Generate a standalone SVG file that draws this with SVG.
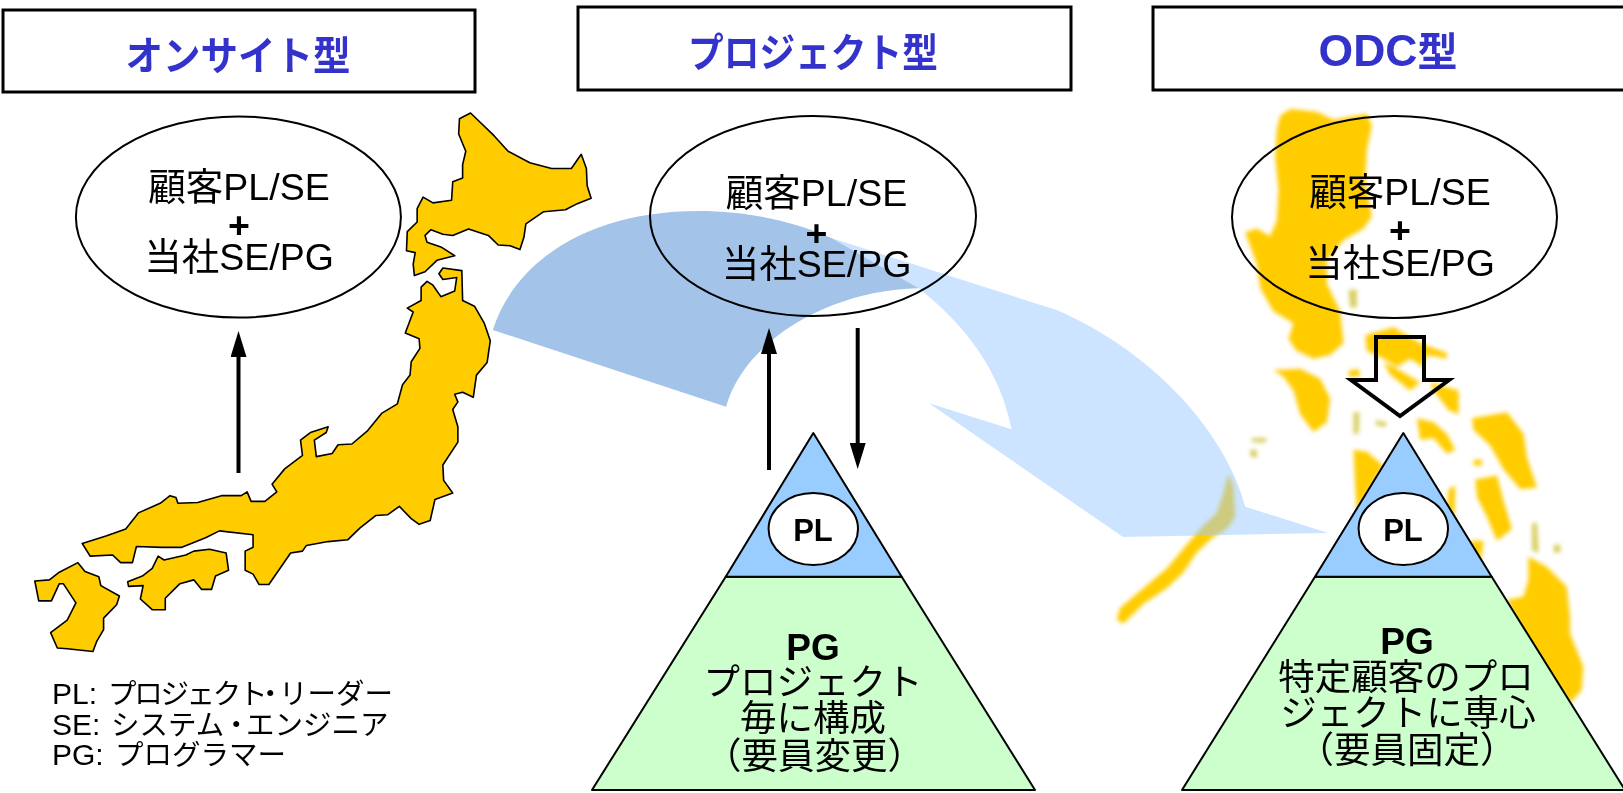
<svg xmlns="http://www.w3.org/2000/svg" width="1623" height="793" viewBox="0 0 1623 793">
<style>
text{font-family:"Liberation Sans","Noto Sans CJK JP",sans-serif;fill:#000;text-anchor:middle}
.hd{fill:#3333CC;font-weight:bold;font-size:40px}
.box{fill:#fff;stroke:#000;stroke-width:3}
.oval{fill:none;stroke:#000;stroke-width:2}
.e{font-size:37.5px}
.b{font-weight:bold}
.t{font-size:36.5px}
.leg{font-size:28.5px;text-anchor:start}
.lat{font-size:30px}
.tri{stroke:#000;stroke-width:2;stroke-linejoin:round}
.jp{fill:#FFCC00;stroke:#000;stroke-width:1.6;stroke-linejoin:round;vector-effect:non-scaling-stroke}
.ph{fill:#FFCC00}
.pale{fill:#D8CF60}
.ln{stroke:#000;stroke-width:4;fill:none}
</style>
<defs>
<filter id="soft" x="-5%" y="-5%" width="110%" height="110%"><feGaussianBlur stdDeviation="2"/></filter>
<marker id="ah" markerUnits="userSpaceOnUse" markerWidth="26" markerHeight="16" refX="0" refY="8" orient="auto" viewBox="0 0 26 16"><path d="M0,0L26,8L0,16Z" fill="#000"/></marker>
</defs>
<g id="philippines" filter="url(#soft)">
<g transform="translate(1100,90) scale(.3336,.3954)">
<path class="ph" d="M540,65L570,48L650,55L700,75L800,60L815,90L800,150L795,230L815,320L790,350L730,380L680,430L680,490L720,560L730,640L690,670L640,680L590,660L565,630L580,590L550,575L520,560L480,500L470,440L435,360L470,350L510,370L530,330L535,250L525,170L530,100Z"/>
<path class="ph" d="M795,620L880,600L910,615L960,640L1040,665L1040,680L980,670L965,700L930,680L890,700L850,680L800,660Z"/>
<path class="ph" d="M745,710L775,705L780,725L745,725Z"/>
<path class="ph" d="M990,740L1075,760L1075,820L1045,810L1000,760Z"/>
<path class="ph" d="M850,690L880,700L960,740L930,760L870,720Z"/>
<path class="ph" d="M520,708L600,705L660,730L690,780L680,840L640,865L600,820L580,760L550,725Z"/>
<path class="pale" d="M760,815L778,815L775,870L760,870ZM825,835L860,840L855,852L828,848ZM455,880L500,880L495,892L455,890ZM450,910L470,910L470,930L452,928ZM745,505L770,505L770,550L750,550ZM1295,1095L1310,1095L1315,1170L1295,1165ZM1360,1150L1380,1150L1380,1170L1360,1170Z"/>
<path class="ph" d="M950,830L1000,840L1040,870L1065,910L1040,920L1000,880L960,885Z"/>
<path class="ph" d="M1115,830L1220,815L1270,870L1280,930L1310,1005L1260,1010L1210,960L1170,900L1120,860Z"/>
<path class="ph" d="M1125,985L1190,975L1210,1040L1235,1110L1190,1140L1160,1080L1130,1030Z"/>
<path class="ph" d="M1120,935L1145,935L1145,950L1120,950Z"/>
<path class="ph" d="M760,910L800,915L850,950L800,1020L770,1070L765,1000Z"/>
<path class="ph" d="M1045,1010L1065,1000L1062,1085L1040,1060Z"/>
<path class="ph" d="M1110,1140L1150,1140L1140,1200L1130,1190Z"/>
<path class="ph" d="M50,1340L60,1310L130,1260L200,1210L260,1150L300,1110L350,1070L370,1020L385,970L400,1000L405,1080L380,1110L340,1130L290,1170L250,1220L200,1260L130,1300L70,1350Z"/>
</g>
<path class="ph" transform="translate(1200,420) scale(.3333)" d="M985,410L1040,440L1100,500L1110,590L1110,640L1150,740L1145,810L1110,850L1000,700L920,540L970,530L985,480Z"/>
</g>
<g id="japan" transform="translate(0,90) scale(.3954,.3827)">
<path class="jp" d="M1162,75L1190,60L1215,85L1250,120L1285,160L1340,190L1395,205L1445,205L1470,168L1483,205L1485,250L1495,283L1460,297L1430,313L1375,318L1330,350L1325,385L1315,417L1290,407L1260,405L1235,380L1185,363L1145,380L1120,377L1090,365L1075,380L1080,398L1115,410L1150,433L1105,445L1075,475L1048,485L1045,455L1050,425L1028,420L1030,370L1055,345L1055,310L1070,280L1095,295L1142,288L1145,240L1170,230L1170,195L1178,160L1160,115Z"/>
<path class="jp" d="M1065,515L1080,500L1095,510L1115,540L1150,525L1155,490L1120,495L1110,480L1120,465L1168,472L1170,550L1200,565L1225,610L1240,655L1232,712L1205,745L1197,803L1170,790L1150,795L1158,815L1145,835L1158,880L1158,920L1120,980L1122,1020L1145,1053L1100,1070L1088,1125L1060,1135L1040,1120L1010,1088L980,1110L950,1112L910,1145L880,1175L830,1180L775,1190L765,1205L735,1210L680,1292L655,1292L640,1265L620,1255L620,1205L640,1195L640,1162L555,1152L520,1170L460,1195L410,1195L345,1193L335,1235L305,1235L285,1215L228,1218L208,1185L270,1165L318,1147L350,1105L405,1080L430,1060L445,1065L450,1080L500,1078L560,1060L610,1060L625,1050L635,1075L670,1075L700,1050L688,1030L720,990L765,955L760,915L785,895L830,880L825,895L795,915L800,958L840,950L855,927L890,925L930,890L965,845L1005,820L1018,770L1037,745L1040,710L1062,675L1060,650L1025,635L1045,580L1030,570L1065,550Z"/>
<path class="jp" d="M323,1285L360,1270L385,1250L400,1218L415,1228L470,1215L490,1205L530,1200L572,1210L578,1255L545,1270L535,1305L510,1305L490,1280L455,1290L418,1328L418,1358L385,1358L355,1330L362,1295L325,1297Z"/>
<path class="jp" d="M88,1283L125,1280L150,1260L197,1235L215,1258L250,1272L255,1295L302,1322L295,1345L262,1380L262,1410L245,1440L235,1467L170,1460L145,1458L128,1418L170,1385L192,1340L160,1290L150,1290L130,1335L98,1335Z"/>
</g>
<g id="flow-arrow">
<path fill="#99C9FF" fill-opacity=".5" d="M832,238.3L1056.5,310C1150,350 1225,430 1245.3,506.7L1328,533L1123,537L929,403.3L1011.6,429.3C1000,370 965,325 918.8,288.3Z"/>
<path fill="#A3C4E8" d="M492.8,330C515,260 590,211 699,211C750,211 795,222 832,238.3L918.8,288.3C830,290 745,340 726,406.7Z"/>
</g>
<g id="header-onsite"><rect class="box" x="3" y="10" width="472" height="82"/><text class="hd" x="238" y="70" textLength="225" lengthAdjust="spacingAndGlyphs">オンサイト型</text></g>
<g id="header-project"><rect class="box" x="578" y="7" width="493" height="83"/><text class="hd" x="813" y="67" textLength="250" lengthAdjust="spacingAndGlyphs">プロジェクト型</text></g>
<g id="header-odc"><rect class="box" x="1153" y="7" width="480" height="83"/><text class="hd" x="1388" y="66"><tspan font-size="44.5">ODC</tspan>型</text></g>
<g id="team-onsite"><ellipse class="oval" cx="238.4" cy="217" rx="162.5" ry="100.6"/><text class="e" x="239" y="200">顧客PL/SE</text><text class="e b" x="239" y="238">+</text><text class="e" x="239" y="270">当社SE/PG</text></g>
<g id="team-project"><ellipse class="oval" cx="813" cy="216" rx="163" ry="100"/><text class="e" x="816.5" y="206">顧客PL/SE</text><text class="e b" x="816.5" y="246">+</text><text class="e" x="816.5" y="277">当社SE/PG</text></g>
<g id="team-odc"><ellipse class="oval" cx="1394.5" cy="217" rx="162.5" ry="101"/><text class="e" x="1400" y="205">顧客PL/SE</text><text class="e b" x="1400" y="243">+</text><text class="e" x="1400" y="276">当社SE/PG</text></g>
<g id="connectors">
<path class="ln" marker-end="url(#ah)" d="M238.5,473V357"/>
<path class="ln" marker-end="url(#ah)" d="M769,470V354"/>
<path class="ln" marker-end="url(#ah)" d="M857.7,328V443"/>
<path fill="none" stroke="#000" stroke-width="4" d="M1376,337H1424V380H1449L1400,416L1351,380H1376Z"/>
</g>
<g id="pyramid-project">
<path class="tri" fill="#CCFFCC" d="M725.7,576.7H901.7L1035,790H592Z"/>
<path class="tri" fill="#99CCFF" d="M813.3,433L901.7,576.7H725.7Z"/>
<ellipse cx="813.3" cy="529" rx="44.7" ry="36" fill="#fff" stroke="#000" stroke-width="2"/>
<text class="b" font-size="31" x="813" y="540.7">PL</text>
<text class="b" font-size="37" x="813" y="659.5">PG</text>
<text class="t" x="813" y="695">プロジェクト</text>
<text class="t" x="813" y="731">毎に構成</text>
<text class="t" x="814.5" y="769">（要員変更）</text>
</g>
<g id="pyramid-odc">
<path class="tri" fill="#CCFFCC" d="M1315,576.7H1491.7L1625,790H1182Z"/>
<path class="tri" fill="#99CCFF" d="M1403.3,433L1491.7,576.7H1315Z"/>
<ellipse cx="1403.3" cy="529" rx="44.7" ry="36" fill="#fff" stroke="#000" stroke-width="2"/>
<text class="b" font-size="31" x="1403" y="540.7">PL</text>
<text class="b" font-size="37" x="1407" y="654">PG</text>
<text class="t" x="1406" y="690">特定顧客のプロ</text>
<text class="t" x="1408" y="726">ジェクトに専心</text>
<text class="t" x="1407" y="763">（要員固定）</text>
</g>
<g id="legend">
<text class="leg" y="704"><tspan class="lat" x="52">PL: </tspan><tspan x="108" letter-spacing="-2.3">プロジェクト</tspan><tspan x="256">・</tspan><tspan x="279">リーダー</tspan></text>
<text class="leg" y="735"><tspan class="lat" x="52">SE: </tspan><tspan x="111">システム</tspan><tspan x="222">・</tspan><tspan x="246">エンジニア</tspan></text>
<text class="leg" y="765"><tspan class="lat" x="52">PG: </tspan><tspan x="115">プログラマー</tspan></text>
</g>
</svg>
